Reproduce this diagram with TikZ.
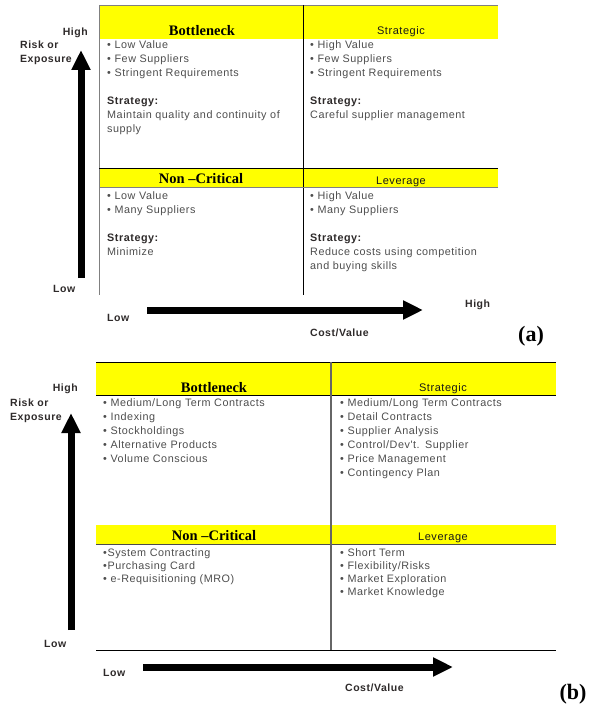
\documentclass[tikz,border=0pt]{standalone}
\usepackage{fontspec}
\setmainfont{Liberation Sans}
\newfontfamily\hdrfont{Liberation Serif}
\newfontfamily\txtfont[LetterSpace=5]{Liberation Sans}
\usepackage{tikz}
\usetikzlibrary{arrows.meta}
\definecolor{hdr}{HTML}{FFFF00}
\definecolor{txt}{HTML}{4D4D4D}
\definecolor{lbl}{HTML}{2E2A2A}
\definecolor{rule}{HTML}{808080}

\begin{document}
\begin{tikzpicture}[x=1pt,y=-1pt,
  cell/.style={anchor=base west,inner sep=0pt,text width=190pt,align=left,
               text=txt,font=\txtfont\fontsize{10.8}{14}\selectfont},
  cellb/.style={cell,font=\txtfont\fontsize{10.8}{13}\selectfont},
  ttl/.style={anchor=base,inner sep=0pt,font=\hdrfont\bfseries\fontsize{14.5}{16}\selectfont},
  ttls/.style={anchor=base,inner sep=0pt,text=black!90,font=\txtfont\fontsize{11}{12}\selectfont},
  lbl/.style={anchor=base west,inner sep=0pt,text=lbl,font=\txtfont\bfseries\fontsize{10.5}{14}\selectfont},
  axis/.style={line width=7pt,-{Triangle[length=20pt,width=18pt]}},
  tag/.style={anchor=base,inner sep=0pt,font=\hdrfont\bfseries\fontsize{22}{24}\selectfont}]
\useasboundingbox (0,0) rectangle (589,706);

% (a)
\fill[hdr] (99,5) rectangle (498,39);
\fill[hdr] (99,168) rectangle (498,187);
\draw[rule] (99,5) -- (498,5);
\draw[rule] (99,5) -- (99,295);
\draw (303,5) -- (303,295);
\draw (99,168) -- (498,168);
\draw[rule] (99,187) -- (498,187);

\node[ttl]  (a1) at (202,36) {Bottleneck};
\node[ttls] (a2) at (401,35) {Strategic};
\node[ttl]  (a3) at (201,183) {Non –Critical};
\node[ttls] (a4) at (401,184) {Leverage};

\node[cell] (a5) at (107,49) {• Low Value\\• Few Suppliers\\• Stringent Requirements\\[14pt]
  {\color{lbl}\bfseries Strategy:}\\Maintain quality and continuity of\\supply};
\node[cell] (a6) at (310,49) {• High Value\\• Few Suppliers\\• Stringent Requirements\\[14pt]
  {\color{lbl}\bfseries Strategy:}\\Careful supplier management};
\node[cell] (a7) at (107,199) {• Low Value\\• Many Suppliers\\[14pt]
  {\color{lbl}\bfseries Strategy:}\\Minimize};
\node[cell] (a8) at (310,199) {• High Value\\• Many Suppliers\\[14pt]
  {\color{lbl}\bfseries Strategy:}\\Reduce costs using competition\\and buying skills};

\node[lbl,anchor=base east] (ah) at (88,36) {High};
\node[lbl] (ar) at (20,49) {Risk or};
\node[lbl] (ae) at (20,63) {Exposure};
\node[lbl] (al) at (53,292) {Low};
\node[lbl] (bl) at (107,321) {Low};
\node[lbl] (bh) at (465,307) {High};
\node[lbl] (bc) at (310,336) {Cost/Value};
\node[tag] (at) at (531,341) {(a)};

\coordinate (ya0) at (81,278);
\coordinate (ya1) at (81,50);
\coordinate (xa0) at (147,310);
\coordinate (xa1) at (423,310);
\draw[axis] (ya0) -- (ya1);
\draw[axis] (xa0) -- (xa1);

% (b)
\fill[hdr] (96,362) rectangle (556,395);
\fill[hdr] (96,525) rectangle (556,544);
\draw (96,362) -- (556,362);
\draw (96,395) -- (556,395);
\draw[black!70] (96,544) -- (556,544);
\draw (96,650) -- (556,650);
\draw[black!60,line width=1.6pt] (331,362) -- (331,650);

\node[ttl]  (b1) at (214,392) {Bottleneck};
\node[ttls] (b2) at (443,391) {Strategic};
\node[ttl]  (b3) at (214,540) {Non –Critical};
\node[ttls] (b4) at (443,540) {Leverage};

\node[cell]  (b5) at (103,406) {• Medium/Long Term Contracts\\• Indexing\\• Stockholdings\\
  • Alternative Products\\• Volume Conscious};
\node[cell]  (b6) at (340,406) {• Medium/Long Term Contracts\\• Detail Contracts\\• Supplier Analysis\\
  • Control/Dev't. Supplier\\• Price Management\\• Contingency Plan};
\node[cellb] (b7) at (103,556) {•System Contracting\\•Purchasing Card\\• e-Requisitioning (MRO)};
\node[cellb] (b8) at (340,556) {• Short Term\\• Flexibility/Risks\\• Market Exploration\\• Market Knowledge};

\node[lbl,anchor=base east] (ch) at (78,391) {High};
\node[lbl] (cr) at (10,406) {Risk or};
\node[lbl] (ce) at (10,420) {Exposure};
\node[lbl] (cl) at (44,647) {Low};
\node[lbl] (dl) at (103,676) {Low};
\node[lbl] (dc) at (345,691) {Cost/Value};
\node[tag] (bt) at (573,699) {(b)};

\coordinate (yb0) at (71,630);
\coordinate (yb1) at (71,413);
\coordinate (xb0) at (143,667);
\coordinate (xb1) at (453,667);
\draw[axis] (yb0) -- (yb1);
\draw[axis] (xb0) -- (xb1);
\end{tikzpicture}
\end{document}
